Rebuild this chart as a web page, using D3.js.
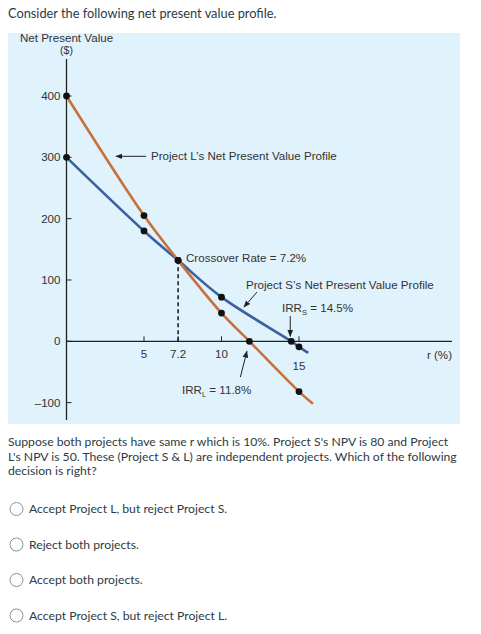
<!DOCTYPE html>
<html>
<head>
<meta charset="utf-8">
<script src="https://cdn.jsdelivr.net/npm/d3@7"></script>
<style>
  body { margin: 0; background: #fff; }
  svg { display: block; }
  .q { font-family: Lato, "Open Sans", sans-serif; font-size: 12.2px; fill: #2d3b45; }
  .c { font-family: "Liberation Sans", Arial, sans-serif; font-size: 11.6px; fill: #333; }
</style>
</head>
<body>
<svg id="chart" width="481" height="634"></svg>
<script>
// data
const lRates = [0, 5, 7.2, 10, 11.8, 15, 15.9];
const lNpv = [400, 205, 132, 46, 0, -82, -102];
const sRates = [0, 5, 7.2, 10, 14.5, 15, 15.6];
const sNpv = [300, 180, 132, 72, 0, -9, -19];
const yTicks = [400, 300, 200, 100, 0, -100];
const xTicks = [5, 7.2, 10, 15];
const crossover = 7.2, irrL = 11.8, irrS = 14.5;

const questionLines = [
  "Suppose both projects have same r which is 10%. Project S's NPV is 80 and Project",
  "L's NPV is 50. These (Project S & L) are independent projects. Which of the following",
  "decision is right?"
];
const options = [
  "Accept Project L, but reject Project S.",
  "Reject both projects.",
  "Accept both projects.",
  "Accept Project S, but reject Project L."
];

const svg = d3.select('#chart');

svg.append('text').attr('class', 'q').attr('x', 8).attr('y', 18).style('font-size', '12.8px')
  .text('Consider the following net present value profile.');

// light blue panel
svg.append('rect').attr('x', 8).attr('y', 33).attr('width', 452).attr('height', 391)
  .attr('fill', '#e0f2fc');

const x = d3.scaleLinear().domain([0, 15]).range([66.5, 299]);
const y = d3.scaleLinear().domain([0, 400]).range([341.3, 96]);

const defs = svg.append('defs');
defs.append('marker').attr('id', 'arr').attr('viewBox', '0 0 10 10')
  .attr('refX', 9).attr('refY', 5).attr('markerWidth', 7).attr('markerHeight', 7)
  .attr('markerUnits', 'userSpaceOnUse').attr('orient', 'auto')
  .append('path').attr('d', 'M0,1 L10,5 L0,9 Z').attr('fill', '#222');

// axes
svg.append('line').attr('x1', x(0)).attr('x2', x(0)).attr('y1', 59).attr('y2', 420)
  .attr('stroke', '#222').attr('stroke-width', 1.3);
svg.append('line').attr('x1', x(0)).attr('x2', 452).attr('y1', y(0)).attr('y2', y(0))
  .attr('stroke', '#222').attr('stroke-width', 1.3);

svg.selectAll('.ytick').data(yTicks).enter().append('line')
  .attr('x1', x(0)).attr('x2', x(0) + 5)
  .attr('y1', d => y(d)).attr('y2', d => y(d))
  .attr('stroke', '#222').attr('stroke-width', 1);
svg.selectAll('.ylab').data(yTicks).enter().append('text')
  .attr('class', 'c').attr('text-anchor', 'end')
  .attr('x', x(0) - 6).attr('y', d => y(d) + 4)
  .text(d => d < 0 ? '\u2013' + Math.abs(d) : d);

svg.selectAll('.xtick').data(xTicks).enter().append('line')
  .attr('x1', d => x(d)).attr('x2', d => x(d))
  .attr('y1', y(0) - 5).attr('y2', y(0))
  .attr('stroke', '#222').attr('stroke-width', 1);
svg.selectAll('.xlab').data(xTicks).enter().append('text')
  .attr('class', 'c').attr('text-anchor', 'middle')
  .attr('x', d => x(d)).attr('y', d => d === 15 ? y(0) + 29 : y(0) + 17)
  .text(d => d);

svg.append('text').attr('class', 'c').attr('text-anchor', 'end')
  .attr('x', 452).attr('y', y(0) + 18).text('r (%)');

svg.append('text').attr('class', 'c').attr('text-anchor', 'middle')
  .attr('x', x(0)).attr('y', 41.5).text('Net Present Value');
svg.append('text').attr('class', 'c').attr('text-anchor', 'middle')
  .attr('x', x(0)).attr('y', 54).style('font-size', '10.5px').text('($)');

// dashed crossover drop line
const crossIdx = lRates.indexOf(crossover);
svg.append('line').attr('x1', x(crossover)).attr('x2', x(crossover))
  .attr('y1', y(lNpv[crossIdx])).attr('y2', y(0))
  .attr('stroke', '#222').attr('stroke-width', 1.6).attr('stroke-dasharray', '4,3');

// profiles
const line = d3.line().curve(d3.curveCatmullRom.alpha(0.5)).x(d => x(d[0])).y(d => y(d[1]));
const lPts = lRates.map((r, i) => [r, lNpv[i]]);
const sPts = sRates.map((r, i) => [r, sNpv[i]]);

svg.append('path').datum(sPts).attr('d', line)
  .attr('fill', 'none').attr('stroke', '#3c5fa3').attr('stroke-width', 2.6);
svg.append('path').datum(lPts).attr('d', line)
  .attr('fill', 'none').attr('stroke', '#c8713b').attr('stroke-width', 2.6);

// dots (every point but the line ends)
const dots = lPts.slice(0, -1).concat(sPts.slice(0, -1));
svg.selectAll('.dot').data(dots).enter().append('circle')
  .attr('cx', d => x(d[0])).attr('cy', d => y(d[1])).attr('r', 3.4)
  .attr('fill', '#111');

// annotations
function arrow(x1, y1, x2, y2) {
  svg.append('line').attr('x1', x1).attr('y1', y1).attr('x2', x2).attr('y2', y2)
    .attr('stroke', '#222').attr('stroke-width', 1).attr('marker-end', 'url(#arr)');
}

arrow(146, y(300) - 1, 116, y(300) - 1);
svg.append('text').attr('class', 'c').attr('x', 151).attr('y', y(300) + 3)
  .text("Project L\u2019s Net Present Value Profile");

svg.append('text').attr('class', 'c').attr('x', 186).attr('y', 261.5)
  .text('Crossover Rate = 7.2%');

svg.append('text').attr('class', 'c').attr('x', 246).attr('y', 288.5)
  .text("Project S\u2019s Net Present Value Profile");
arrow(257, 292, 244, 307);

const irrSLabel = svg.append('text').attr('class', 'c').attr('x', 282).attr('y', 312);
irrSLabel.append('tspan').text('IRR');
irrSLabel.append('tspan').attr('dy', 3).style('font-size', '7.5px').text('S');
irrSLabel.append('tspan').attr('dy', -3).text(' = 14.5%');
arrow(x(irrS) - 1, 316, x(irrS) - 1, y(0) - 5);

const irrLLabel = svg.append('text').attr('class', 'c').attr('x', 182).attr('y', 393.5);
irrLLabel.append('tspan').text('IRR');
irrLLabel.append('tspan').attr('dy', 3).style('font-size', '7.5px').text('L');
irrLLabel.append('tspan').attr('dy', -3).text(' = 11.8%');
arrow(x(irrL) - 9, 377, x(irrL) - 2.5, y(0) + 10);

// question text
svg.selectAll('.ql').data(questionLines).enter().append('text')
  .attr('class', 'q').attr('x', 8).attr('y', (d, i) => 446 + i * 14.7)
  .text(d => d);

const opt = svg.selectAll('.opt').data(options).enter().append('g')
  .attr('transform', (d, i) => 'translate(0,' + (509 + i * 35.5) + ')');
opt.append('circle').attr('cx', 16.5).attr('cy', 0).attr('r', 6.5)
  .attr('fill', '#fff').attr('stroke', '#8a949c').attr('stroke-width', 1);
opt.append('text').attr('class', 'q').attr('x', 29).attr('y', 4.3).text(d => d);
</script>
</body>
</html>
